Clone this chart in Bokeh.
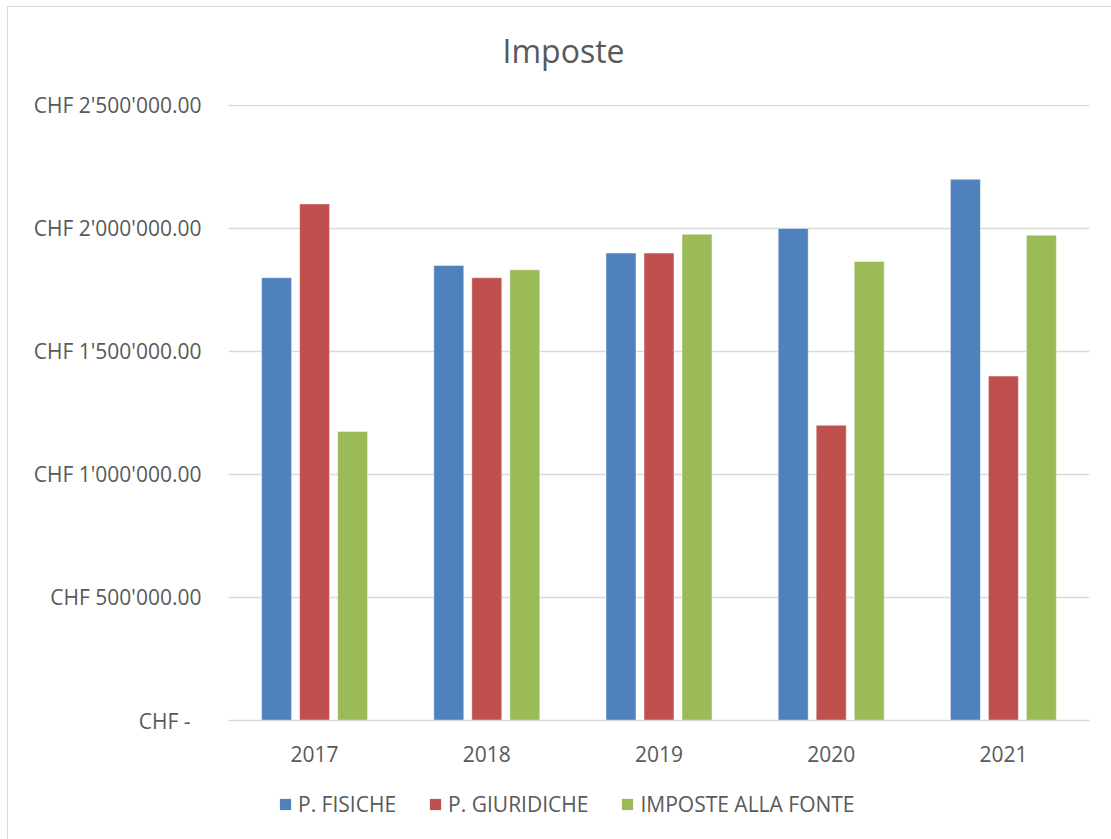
from bokeh.plotting import figure
from bokeh.layouts import column
from bokeh.models import (ColumnDataSource, FactorRange, Range1d, FixedTicker,
                          CustomJSTickFormatter, Legend, LegendItem, Label)
from bokeh.transform import dodge
from bokeh.embed import file_html
from bokeh.resources import INLINE

years = ["2017", "2018", "2019", "2020", "2021"]
p_fisiche = [1800000, 1850000, 1900000, 2000000, 2200000]
p_giuridiche = [2100000, 1800000, 1900000, 1200000, 1400000]
imposte_fonte = [1175000, 1832000, 1977000, 1866000, 1973000]
series_names = ["P. FISICHE", "P. GIURIDICHE", "IMPOSTE ALLA FONTE"]
series_colors = ["#4F81BD", "#C0504D", "#9BBB59"]
y_ticks = [0, 500000, 1000000, 1500000, 2000000, 2500000]
title_text = "Imposte"

FONT = "Open Sans"
TXT = "#595959"
GRID = "#D9D9D9"
W = 1103


def strip(height):
    f = figure(width=W, height=height, x_range=Range1d(0, 1), y_range=Range1d(0, 1),
               toolbar_location=None, output_backend="svg", x_axis_location=None,
               y_axis_location=None, min_border=0)
    f.outline_line_color = None
    f.xgrid.grid_line_color = None
    f.ygrid.grid_line_color = None
    return f


# title strip (its frame is aligned with the chart frame by the column layout)
top = strip(78)
top.add_layout(Label(x=335, y=35, x_units="screen", y_units="screen", text=title_text,
                     text_font=FONT, text_font_size="32px", text_color=TXT,
                     text_align="center", text_baseline="alphabetic"))

# chart
source = ColumnDataSource(data=dict(years=years, a=p_fisiche, b=p_giuridiche, c=imposte_fonte))
p = figure(width=W, height=702, x_range=FactorRange(*years),
           y_range=Range1d(0, 2504000), toolbar_location=None,
           output_backend="svg", min_border_left=220, min_border_right=22,
           min_border_top=19, min_border_bottom=67)
p.outline_line_color = None
p.background_fill_color = "white"
p.border_fill_color = "white"

keys = ["a", "b", "c"]
offsets = [-0.2207, 0.0, 0.2207]
for key, off, col in zip(keys, offsets, series_colors):
    p.vbar(x=dodge("years", off, range=p.x_range), top=key, width=0.174,
           source=source, fill_color=col, line_color="white", line_alpha=0.45,
           line_width=1)

p.yaxis.ticker = FixedTicker(ticks=y_ticks)
p.yaxis.formatter = CustomJSTickFormatter(code="""
    if (tick == 0) { return "CHF -\u00a0\u00a0"; }
    var s = Math.round(tick).toString().replace(/\\B(?=(\\d{3})+(?!\\d))/g, "'");
    return "CHF " + s + ".00";
""")
for ax in (p.xaxis[0], p.yaxis[0]):
    ax.major_tick_line_color = None
    ax.minor_tick_line_color = None
    ax.major_label_text_font = FONT
    ax.major_label_text_font_size = "21px"
    ax.major_label_text_color = TXT
p.yaxis.axis_line_color = None
p.yaxis.major_label_standoff = 21
p.xaxis.axis_line_color = GRID
p.xaxis.axis_line_width = 1.3
p.xaxis.major_label_standoff = 19

p.xgrid.grid_line_color = None
p.ygrid.grid_line_color = GRID
p.ygrid.grid_line_width = 1.3

# legend strip below the chart
lg = strip(52)
swatch = ColumnDataSource(data=dict(x=[0.5], top=[0.0], bottom=[0.0]))
lg_renderers = [lg.vbar(x="x", top="top", bottom="bottom", width=0.0, source=swatch,
                        fill_color=c, line_color=None) for c in series_colors]
legend = Legend(items=[LegendItem(label=n, renderers=[r]) for n, r in zip(series_names, lg_renderers)],
                orientation="horizontal", location=(50, 21), glyph_width=14, glyph_height=14,
                label_standoff=6, spacing=32, label_text_font=FONT,
                label_text_font_size="21px", label_text_color=TXT,
                border_line_color=None, background_fill_alpha=0, padding=0, margin=0)
lg.add_layout(legend, "center")

layout = column(top, p, lg, spacing=0, margin=(6, 0, 0, 7),
                styles={"border-left": "1px solid #D9D9D9", "border-top": "1px solid #D9D9D9"})
open("out.html", "w").write(file_html(layout, INLINE))
